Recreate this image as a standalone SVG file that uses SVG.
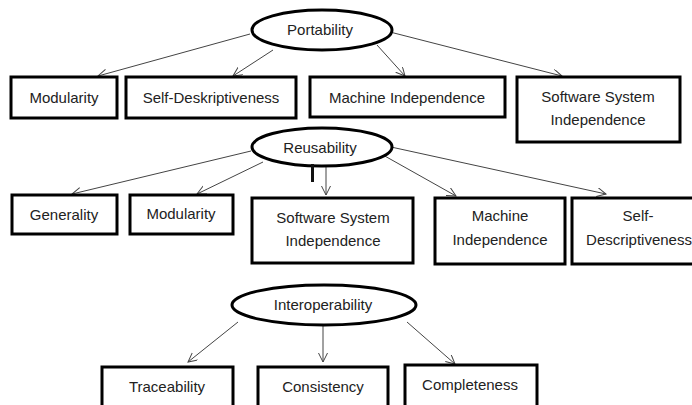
<svg xmlns="http://www.w3.org/2000/svg" width="692" height="405" viewBox="0 0 692 405">
<defs>
<marker id="arr" markerUnits="userSpaceOnUse" markerWidth="12" markerHeight="12" refX="9" refY="4.5" orient="auto">
<path d="M0,0 L9,4.5 L0,9" fill="none" stroke="#444" stroke-width="1"/>
</marker>
</defs>
<style>
.box{fill:#fff;stroke:#000;stroke-width:3}
.ell{fill:#fff;stroke:#000;stroke-width:3}
.t{font-family:"Liberation Sans",Arial,sans-serif;font-size:15px;fill:#222;text-anchor:middle}
.c{stroke:#444;stroke-width:1;fill:none;marker-end:url(#arr)}
</style>
<rect width="692" height="405" fill="#fff"/>
<g id="connectors">
<line class="c" x1="250" y1="34" x2="98" y2="76"/>
<line class="c" x1="273" y1="50" x2="233" y2="76"/>
<line class="c" x1="377" y1="45" x2="405" y2="76"/>
<line class="c" x1="390" y1="32" x2="562" y2="76"/>
<line class="c" x1="251" y1="151" x2="72" y2="194"/>
<line class="c" x1="263" y1="162" x2="197" y2="194"/>
<line class="c" x1="326" y1="166" x2="326" y2="195"/>
<line class="c" x1="383" y1="155" x2="456" y2="196"/>
<line class="c" x1="391" y1="147" x2="606" y2="194"/>
<line class="c" x1="238" y1="322" x2="188" y2="362"/>
<line class="c" x1="323" y1="325" x2="323" y2="362"/>
<line class="c" x1="407" y1="322" x2="455" y2="364"/>
</g>
<g id="portability"><ellipse class="ell" cx="322" cy="30" rx="70" ry="20"/><text class="t" x="320" y="35">Portability</text></g>
<g id="p-modularity"><rect class="box" x="11" y="77" width="106" height="41"/><text class="t" x="64" y="103">Modularity</text></g>
<g id="p-selfdesk"><rect class="box" x="126" y="77" width="170" height="41"/><text class="t" x="211" y="103">Self-Deskriptiveness</text></g>
<g id="p-machine"><rect class="box" x="310" y="77" width="195" height="40"/><text class="t" x="407" y="103">Machine Independence</text></g>
<g id="p-software"><rect class="box" x="517" y="77" width="163" height="65"/><text class="t" x="598" y="102">Software System</text><text class="t" x="598" y="125">Independence</text></g>
<g id="reusability"><ellipse class="ell" cx="322" cy="147" rx="70" ry="19"/><text class="t" x="320" y="153">Reusability</text></g>
<rect x="311" y="164" width="3" height="18" fill="#111"/>
<g id="r-generality"><rect class="box" x="12" y="195" width="105" height="39"/><text class="t" x="64" y="220">Generality</text></g>
<g id="r-modularity"><rect class="box" x="130" y="195" width="103" height="39"/><text class="t" x="181" y="219">Modularity</text></g>
<g id="r-software"><rect class="box" x="252" y="198" width="161" height="65"/><text class="t" x="333" y="223">Software System</text><text class="t" x="333" y="246">Independence</text></g>
<g id="r-machine"><rect class="box" x="435" y="198" width="130" height="66"/><text class="t" x="500" y="221">Machine</text><text class="t" x="500" y="245">Independence</text></g>
<g id="r-selfdesc"><rect class="box" x="572" y="198" width="125" height="66"/><text class="t" x="638" y="221">Self-</text><text class="t" x="639" y="245">Descriptiveness</text></g>
<g id="interoperability"><ellipse class="ell" cx="324" cy="305" rx="92" ry="20"/><text class="t" x="323" y="310">Interoperability</text></g>
<g id="i-traceability"><rect class="box" x="102" y="367" width="131" height="45"/><text class="t" x="167" y="392">Traceability</text></g>
<g id="i-consistency"><rect class="box" x="258" y="367" width="130" height="45"/><text class="t" x="323" y="392">Consistency</text></g>
<g id="i-completeness"><rect class="box" x="405" y="365" width="132" height="47"/><text class="t" x="470" y="390">Completeness</text></g>
</svg>
